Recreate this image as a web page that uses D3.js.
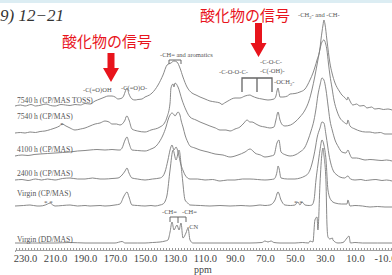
<!DOCTYPE html>
<html><head><meta charset="utf-8">
<script src="https://cdn.jsdelivr.net/npm/d3@7"></script>
<style>html,body{margin:0;padding:0;background:#fff;overflow:hidden}</style>
</head><body><svg id="c" width="392" height="275"></svg>
<script>
// ---- data (ppm, intensity above each trace's own baseline) ----
const traceNames = ["7540 h (CP/MAS TOSS)","7540 h (CP/MAS)","4100 h (CP/MAS)","2400 h (CP/MAS)","Virgin (CP/MAS)","Virgin (DD/MAS)"];
const traceOffsets = [144, 117, 95, 70, 44, 7];
const tossData = [[236.7,0],[233,1],[230,0],[226,1.5],[223,0],[219,1],[216,2],[213,0.5],[210,0],[206,1.5],[203,1],[200,0.5],[196.7,1.5],[193,1],[190,2.5],[186.7,2],[183.3,5],[180,7],[176.7,9],[174.7,10],[172,10],[170,9],[168,7],[165.3,8],[164,11],[163.3,14],[162,18],[160.7,12],[158.7,7],[156.7,6],[154.7,6.5],[152,7],[150,9],[147,11],[145.3,13],[141.3,21],[138,31],[135.3,41],[132.7,43],[130.7,45],[128.7,44],[126.7,38],[124.7,29],[122,19],[118.7,13],[116,11],[113.3,9],[110,7],[106.7,5],[103,4],[100,3],[98.7,1.5],[97,3],[94.7,5],[90,8],[86.7,8],[83.3,10],[80,11],[78.7,10],[75.3,8],[72,7],[68,6],[64,7],[62.7,10],[62,15],[61.3,18],[60.7,14],[60,9],[58,9],[55,10],[53.3,12],[50,12.5],[46.7,14],[43.3,17],[40,26],[38,33],[35.3,46],[33.3,58],[32.7,66],[32,74],[31.3,81],[30.7,86],[30,82],[28.7,66],[26.7,43],[25.3,33],[23.3,23],[20.5,15],[18.7,11],[16.5,8],[15.3,6],[14.7,9],[14,7],[11.3,1],[9,2],[6.7,0],[4,0.5],[2,-2],[-1,-1],[-3.3,-3],[-6,-2.5],[-9,-3.5],[-12,-3],[-14.7,-4]];
const cp7540Data = [[236.7,0],[233,0.5],[230,0],[226.7,1],[223,0.5],[220,1.5],[216.7,2],[213,3.5],[210,5],[207,7],[205.3,9],[202.7,7],[200,5],[196.7,3],[193,4],[190,5],[186.7,7],[183.3,9],[180,10],[176.7,12],[174,11],[172,9],[169,9],[166.7,8],[163.3,13],[162.7,16],[162,17],[160.7,13],[158.7,4],[155,2],[150,1],[146,3],[140,6],[137,10],[135.3,16],[133.3,30],[132.7,45],[131.3,49],[130.7,46],[130,50],[128,46],[125.3,33],[122.7,23],[120,16],[116,13],[113.3,11],[110,9],[106.7,7],[103,5],[100,3],[96,3],[93.3,2],[90,4],[86.7,6],[84,10],[82,13],[80,11],[78.7,11],[76,9],[73.3,7],[70,6],[66.7,5],[64,6],[62.7,13],[61.3,21],[60,13],[58.3,8],[56.7,7],[53,8],[50,11],[46.7,16],[43.3,23],[40.7,32],[38.7,43],[36.7,57],[34.7,73],[33.3,84],[32,91],[30.7,93],[29.5,89],[28.7,83],[27.7,70],[26.7,58],[25.3,45],[24,33],[22,22],[20,15],[17.5,11],[15.3,9],[14.7,13],[13.3,7],[10,4],[6.7,2],[3,1],[0,1],[-3.3,0],[-7,0.5],[-10,-1],[-14.7,-1]];
const h4100Data = [[236.7,-1],[232,0],[228,-0.5],[224,0.5],[220,1],[215,1.5],[210,2],[205,2.5],[200,3],[195,4],[190,4.5],[186.7,5],[182,5.5],[176.7,5],[172,5.5],[168,5],[166.7,5],[165.3,7],[163.3,15],[162,18],[160.7,12],[158.7,5],[155,4.5],[150,4],[146,6],[143.3,8],[140.5,13],[138,20],[136,28],[134.7,35],[133.3,40],[132,42],[131,41],[130,39],[128,43],[126.7,40],[126,35],[124.5,27],[123.3,20],[121.5,13],[120,9],[116.7,7],[113.3,5],[108,3],[103.3,1],[98,0],[93.3,-2],[88,0],[83.3,3],[80,6],[78,4],[76.7,2],[73,0],[70,-2],[66,-1],[64,0],[62,12],[60.7,15],[59.3,3],[56,0],[53.3,-1],[50,0],[46.7,3],[43.3,8],[41.3,15],[39.3,24],[37.3,35],[36,46],[34.7,60],[33.3,70],[32,77],[30.7,75],[29.3,65],[28,50],[26.7,35],[25,24],[23.3,15],[21,8],[18.7,3],[16,2],[14.7,5],[13.5,1],[12,-3],[9,-3],[6,-4],[3.3,-5],[0,-4.5],[-4,-5],[-8,-5.5],[-11,-5],[-14.7,-6]];
const h2400Data = [[236.7,0],[232,0.5],[228,-0.5],[223,1],[219,0],[215,1],[210,0],[205,1.5],[200,2],[195,1],[190,1],[185,2],[180,1],[176.7,1],[172,1.5],[168,2],[165.3,5],[163.3,9],[162,12],[160.7,7],[158.7,2],[155,1],[150,0],[145,1],[140,2],[138,4],[136.7,8],[134.7,20],[133.3,30],[132,35],[130.7,30],[129.3,33],[128,28],[126,15],[124.5,9],[123.3,5],[120,1],[115,1],[110,0],[105,0.5],[100,-1],[95,0],[90,0],[85,1],[80,1],[75,0.5],[70,0],[66,0.5],[64,1],[62,8],[61.3,14],[60.7,12],[59.3,2],[55,1],[50,1],[46.5,2],[43.3,4],[41.5,6],[40,10],[38.7,16],[37.3,25],[36.3,33],[35.3,42],[33.3,52],[32,58],[30.7,57],[29.3,45],[28.2,34],[27.3,25],[26,16],[24.7,10],[22,5],[20,3],[17,2],[14.7,4],[13,1],[10,0],[6,0.5],[3,-0.5],[0,0],[-4,0.5],[-8,-0.5],[-11,0],[-14.7,-1]];
const virginCPData = [[236.7,0],[231,0.5],[226.7,1],[222,0],[220,0],[216.5,1],[215,2],[213.3,3],[211.5,1],[210,0],[205,0.5],[200,1],[195,0],[190,0.5],[186.7,0],[180,0.5],[176.7,0],[170,1],[166.7,2],[164,10],[162,14],[160.7,9],[158.7,1],[155,0.5],[150,0],[146,0.5],[143.3,0],[140,1],[138,2],[136.5,5],[135.3,11],[133.3,36],[131.3,56],[129.3,46],[127.3,56],[125.3,31],[123.3,6],[121.5,3],[120,1],[113,0.5],[106.7,0],[100,0.5],[93.3,0],[86,0.5],[80,0],[76,0.5],[73.3,1],[70,0.5],[66.7,1],[63.3,6],[61.3,14],[59.3,6],[56.7,1],[53,0.5],[50,1],[48,4],[46.7,1],[45.3,4],[43.3,1],[40.5,0.5],[38.7,1],[37.3,6],[36,26],[34.7,41],[33.3,56],[32,66],[30.7,61],[29.3,46],[28,16],[26,6],[23.3,3],[19,2],[15.3,2],[14.7,6],[13.3,0],[10,0.5],[5,0],[0,-1],[-5,-0.5],[-10,-1],[-14.7,-1]];
const ddData = [[236.7,0],[225,0],[210,0],[200,0.5],[190,0],[180,0],[170,0],[165.3,1.5],[163.3,0],[155,0],[150,0],[145,0.5],[140,1],[136.5,2],[134.7,3],[133.3,11],[132,21],[130.7,13],[128.7,18],[127.3,13],[126,20],[124.7,5],[122.7,10],[121.3,15],[120,3],[118,0],[110,0],[100,0],[90,0],[80,0],[72,0.5],[70,2],[68,1],[66,2],[64,0.5],[60,0],[50,0],[45,0.5],[41,0],[40,2],[38,1],[36.7,23],[35.3,26],[34.7,13],[33.3,60],[32,90],[31.3,95],[30.7,88],[29.3,60],[28.7,20],[28,6],[26.7,4],[25,5],[24.7,3],[21.3,0],[18,0.5],[15.3,5],[14,7],[13,0],[10,0.5],[5,0],[0,0],[-5,0],[-14.7,0]];
const allTraces = [tossData, cp7540Data, h4100Data, h2400Data, virginCPData, ddData];
const tickValues = [230,210,190,170,150,130,110,90,70,50,30,10,-10];
const axisTitle = "ppm";
const figTitle = "9) 12\u221221";
const redNote = "酸化物の信号";

// ---- drawing ----
const svg = d3.select("#c");
svg.append("rect").attr("width",392).attr("height",275).attr("fill","#fff");
svg.append("rect").attr("width",392).attr("height",3).attr("fill","#dcedf3");

const x = d3.scaleLinear().domain([236.7,-14.7]).range([15,392]);
const y = d3.scaleLinear().domain([0,250]).range([250,0]);

const line = d3.line().x(d=>x(d[0])).y(d=>y(d[1])).curve(d3.curveMonotoneX);
allTraces.forEach((tr,i)=>{
  const off = traceOffsets[i];
  const pts = tr.map(d=>[d[0], d[1]+off]).sort((a,b)=>b[0]-a[0]);
  svg.append("path").attr("d", line(pts))
    .attr("fill","none").attr("stroke","#7a7a7a").attr("stroke-width",0.9);
});

// axis
const ax = svg.append("g").attr("transform","translate(0,250)");
ax.call(d3.axisBottom(x).tickValues(d3.range(236,-15,-2)).tickSize(2).tickFormat(""));
ax.select(".domain").attr("stroke","#888").attr("stroke-width",0.8);
ax.selectAll(".tick line").attr("stroke","#999").attr("y1",-2).attr("y2",0);
const ax2 = svg.append("g").attr("transform","translate(0,250)");
ax2.call(d3.axisBottom(x).tickValues(tickValues).tickSize(0).tickPadding(5).tickFormat(d=>d.toFixed(1)));
ax2.select(".domain").remove();
ax2.selectAll("text").attr("font-family","Liberation Serif").attr("font-size",10.5).attr("fill","#444");
svg.append("text").attr("x",203).attr("y",273).attr("text-anchor","middle")
  .attr("font-family","Liberation Serif").attr("font-size",10).attr("fill","#444").text(axisTitle);

// trace labels
const lab = {font:"Liberation Serif", size:7.6, fill:"#555"};
const labelY = [103, 119, 152, 176, 196, 242];
traceNames.forEach((n,i)=>{
  svg.append("text").attr("x",17).attr("y",labelY[i]).attr("font-family",lab.font)
   .attr("font-size",lab.size).attr("fill",lab.fill).text(n);
});

function t(xp,yp,s,size,anchor){
  return svg.append("text").attr("x",xp).attr("y",yp).attr("font-family","Liberation Serif")
   .attr("font-size",size||6.5).attr("fill","#555").attr("text-anchor",anchor||"start").text(s);
}
t(83,92,"-C(=O)OH");
t(121,90,"-C(=O)O-");
t(160,57,"-CH= and aromatics");
const ch2 = t(298,17,"-CH");
ch2.append("tspan").attr("font-size",4.5).attr("dy",1.5).text("2");
ch2.append("tspan").attr("dy",-1.5).text("- and -CH-");
t(260,64,"-C-O-C-");
t(219,74,"-C-O-O-C-");
t(260,73,"-C(-OH)-");
const och = t(274,84,"-OCH");
och.append("tspan").attr("font-size",4.5).attr("dy",1.5).text("2");
och.append("tspan").attr("dy",-1.5).text("-");
t(162,214,"-CH=");
t(182,214,"-CH=");
t(187,229,"-CN");
t(60,127,"*",7);
t(44,205,"* *",7);
t(294,205,"* *",7);

// brackets
const br = d3.path();
br.moveTo(169,64); br.lineTo(169,60); br.lineTo(181,60); br.lineTo(181,64);
svg.append("path").attr("d",br.toString()).attr("fill","none").attr("stroke","#666").attr("stroke-width",1);
const br2 = d3.path();
br2.moveTo(242,92); br2.lineTo(242,78); br2.lineTo(257,78); br2.lineTo(257,92);
br2.moveTo(257,78); br2.lineTo(272,78); br2.lineTo(272,92);
svg.append("path").attr("d",br2.toString()).attr("fill","none").attr("stroke","#666").attr("stroke-width",1.3);
const br3 = d3.path();
br3.moveTo(170,222); br3.lineTo(170,217); br3.lineTo(186,217); br3.lineTo(186,222);
br3.moveTo(178,217); br3.lineTo(178,223);
svg.append("path").attr("d",br3.toString()).attr("fill","none").attr("stroke","#666").attr("stroke-width",1);

// title
svg.append("text").attr("x",0).attr("y",21).attr("font-family","Liberation Serif")
  .attr("font-style","italic").attr("font-size",17).attr("fill","#333").text(figTitle);

// red notes and arrows
function red(xp,yp){
  svg.append("text").attr("x",xp).attr("y",yp).attr("font-family","Noto Sans CJK JP")
   .attr("font-size",15).attr("fill","#e8141c").text(redNote);
}
red(62,47); red(200,21);
function arrow(cx,y0,y1){
  const p = d3.path();
  p.moveTo(cx-3.5,y0); p.lineTo(cx+3.5,y0); p.lineTo(cx+3.5,y1-14); p.lineTo(cx+8,y1-14);
  p.lineTo(cx,y1); p.lineTo(cx-8,y1-14); p.lineTo(cx-3.5,y1-14); p.closePath();
  svg.append("path").attr("d",p.toString()).attr("fill","#e8141c");
}
arrow(111,53,82); arrow(258.5,23,57);
</script></body></html>
